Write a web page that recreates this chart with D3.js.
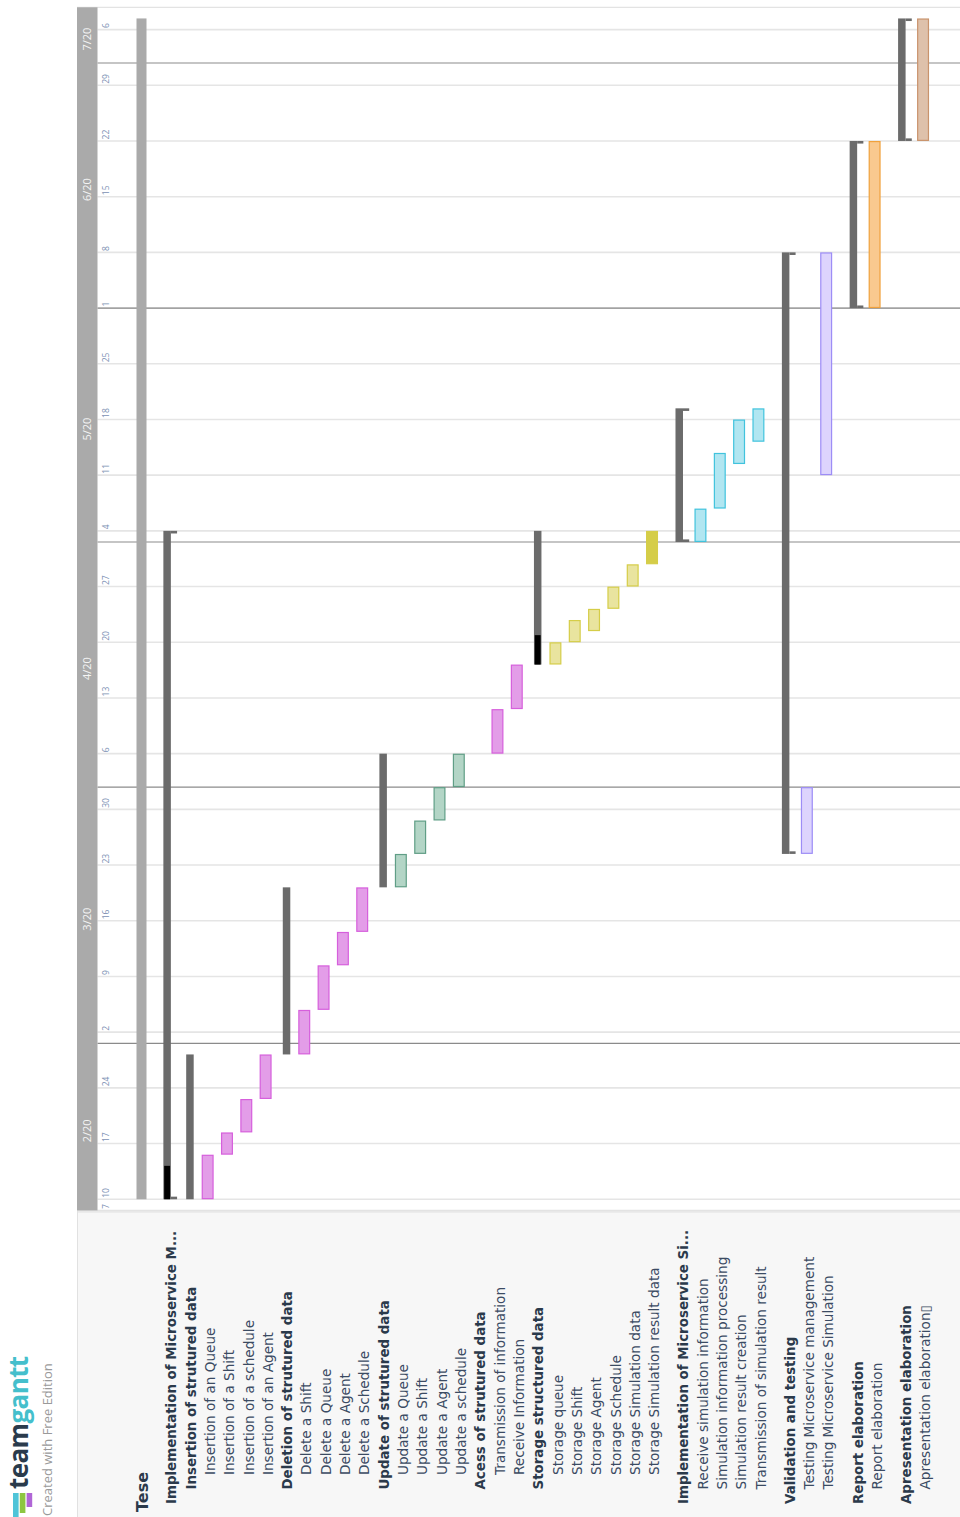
<!DOCTYPE html>
<html>
<head>
<meta charset="utf-8">
<script src="https://cdn.jsdelivr.net/npm/d3@7"></script>
<style>
  html, body { margin: 0; padding: 0; background: #ffffff; }
  svg { display: block; }
</style>
</head>
<body>
<svg id="chart" width="960" height="1517"></svg>
<script>
// ---- schedule data -------------------------------------------------------
const rowNames = [
  "Tese",
  "Implementation of Microservice M...",
  "Insertion of strutured data",
  "Insertion of an Queue",
  "Insertion of a Shift",
  "Insertion of a schedule",
  "Insertion of an Agent",
  "Deletion of strutured data",
  "Delete a Shift",
  "Delete a Queue",
  "Delete a Agent",
  "Delete a Schedule",
  "Update of strutured data",
  "Update a Queue",
  "Update a Shift",
  "Update a Agent",
  "Update a schedule",
  "Acess of strutured data",
  "Transmission of information",
  "Receive Information",
  "Storage structured data",
  "Storage queue",
  "Storage Shift",
  "Storage Agent",
  "Storage Schedule",
  "Storage Simulation data",
  "Storage Simulation result data",
  "Implementation of Microservice Si...",
  "Receive simulation information",
  "Simulation information processing",
  "Simulation result creation",
  "Transmission of simulation result",
  "Validation and testing",
  "Testing Microservice management",
  "Testing Microservice Simulation",
  "Report elaboration",
  "Report elaboration",
  "Apresentation elaboration",
  "Apresentation elaboration\u25AF"
];

const rowKinds = [
  "project",
  "group", "subgroup", "task", "task", "task", "task",
  "subgroup", "task", "task", "task", "task",
  "subgroup", "task", "task", "task", "task",
  "subgroup", "task", "task",
  "subgroup", "task", "task", "task", "task", "task", "task",
  "group", "task", "task", "task", "task",
  "group", "task", "task",
  "group", "task",
  "group", "task"
];

const rowDepths = [
  -1,
  0, 1, 2, 2, 2, 2,
  1, 2, 2, 2, 2,
  1, 2, 2, 2, 2,
  1, 2, 2,
  1, 2, 2, 2, 2, 2, 2,
  0, 1, 1, 1, 1,
  0, 1, 1,
  0, 1,
  0, 1
];

const rowStarts = [
  "2020-02-10",
  "2020-02-10", "2020-02-10", "2020-02-10", "2020-02-14", "2020-02-18", "2020-02-21",
  "2020-02-27", "2020-02-27", "2020-03-04", "2020-03-10", "2020-03-13",
  "2020-03-19", "2020-03-19", "2020-03-24", "2020-03-27", "2020-04-01",
  null, "2020-04-06", "2020-04-10",
  "2020-04-16", "2020-04-16", "2020-04-20", "2020-04-21", "2020-04-23", "2020-04-27", "2020-04-29",
  "2020-05-01", "2020-05-01", "2020-05-06", "2020-05-12", "2020-05-14",
  "2020-03-24", "2020-03-24", "2020-05-11",
  "2020-06-01", "2020-06-01",
  "2020-06-22", "2020-06-22"
];

const rowEnds = [
  "2020-07-06",
  "2020-05-01", "2020-02-26", "2020-02-13", "2020-02-17", "2020-02-20", "2020-02-26",
  "2020-03-18", "2020-03-03", "2020-03-09", "2020-03-12", "2020-03-18",
  "2020-04-03", "2020-03-23", "2020-03-26", "2020-03-31", "2020-04-03",
  null, "2020-04-09", "2020-04-15",
  "2020-05-01", "2020-04-17", "2020-04-21", "2020-04-22", "2020-04-24", "2020-04-28", "2020-05-01",
  "2020-05-18", "2020-05-05", "2020-05-12", "2020-05-15", "2020-05-18",
  "2020-06-05", "2020-03-31", "2020-06-05",
  "2020-06-19", "2020-06-19",
  "2020-07-06", "2020-07-06"
];

// percent complete
const rowProgress = [
  0,
  5, 0, 0, 0, 0, 0,
  0, 0, 0, 0, 0,
  0, 0, 0, 0, 0,
  0, 0, 0,
  22, 0, 0, 0, 0, 0, 100,
  0, 0, 0, 0, 0,
  0, 0, 0,
  0, 0,
  0, 0
];

// colour family of each task bar
const rowPalette = [
  null,
  null, null, "pink", "pink", "pink", "pink",
  null, "pink", "pink", "pink", "pink",
  null, "sage", "sage", "sage", "sage",
  null, "pink", "pink",
  null, "olive", "olive", "olive", "olive", "olive", "olive",
  null, "sky", "sky", "sky", "sky",
  null, "lilac", "lilac",
  null, "apricot",
  null, "sand"
];

// visible calendar: first and last working day shown
const timeSpan = ["2020-02-07", "2020-07-07"];

// ---- styles ----------------------------------------------------------------
const palette = {
  pink:    { fill: "#e39de8", stroke: "#d65fdc" },
  sage:    { fill: "#b3d5c6", stroke: "#609e86" },
  olive:   { fill: "#e9e49f", stroke: "#d5cd48" },
  sky:     { fill: "#b1e6f1", stroke: "#41c3dd" },
  lilac:   { fill: "#ddd4fd", stroke: "#9d8df6" },
  apricot: { fill: "#f9c98f", stroke: "#f0a13c" },
  sand:    { fill: "#dec1ab", stroke: "#c9936c" }
};
const labelFont = "'DejaVu Sans', 'Open Sans', sans-serif";
const uiFont = "'Open Sans', 'Noto Sans', sans-serif";

// ---- calendar helpers (weekends are hidden) ---------------------------
const parse = d3.utcParse("%Y-%m-%d");
const isWorkday = d => d.getUTCDay() !== 0 && d.getUTCDay() !== 6;
const calStart = parse(timeSpan[0]);
const calEnd = d3.utcDay.offset(parse(timeSpan[1]), 1);   // exclusive
const workIndex = d => d3.utcDay.range(calStart, d).filter(isWorkday).length;

const svg = d3.select("#chart");

const plotTop = 7.3, plotBottom = 1210.4;
const headerX0 = 77, headerX1 = 97.5, plotRight = 960;

// time runs bottom -> top
const y = d3.scaleLinear()
  .domain([0, workIndex(calEnd)])
  .range([plotBottom, plotTop]);
const yDate = d => y(workIndex(d));

// row centres, with a little extra room before every top-level group
const rowStep = 19.32, groupGap = 9.8, rowOrigin = 139.9;
let groupCount = 0;
const rowX = rowNames.map((_, i) => {
  if (rowKinds[i] === "group") groupCount++;
  return rowOrigin + rowStep * i + groupGap * groupCount;
});

// ---- backgrounds ---------------------------------------------------------
svg.append("rect").attr("x", 0).attr("y", 0).attr("width", 960).attr("height", 1517).attr("fill", "#ffffff");

// task list panel
svg.append("rect")
  .attr("x", headerX0).attr("y", plotBottom + 1.5)
  .attr("width", plotRight - headerX0).attr("height", 1517 - plotBottom)
  .attr("fill", "#f7f7f7");
svg.append("line")
  .attr("x1", headerX0).attr("x2", plotRight)
  .attr("y1", plotBottom + 1.5).attr("y2", plotBottom + 1.5)
  .attr("stroke", "#e1e1e1").attr("stroke-width", 1.2);
svg.append("line")
  .attr("x1", headerX0 + 0.5).attr("x2", headerX0 + 0.5)
  .attr("y1", plotBottom).attr("y2", 1517)
  .attr("stroke", "#e1e1e1").attr("stroke-width", 1);

// ---- week grid -------------------------------------------------------------
const mondays = d3.utcMonday.range(calStart, calEnd);
const fmtDay = d3.utcFormat("%-d");

svg.append("g").selectAll("line")
  .data(mondays)
  .join("line")
  .attr("x1", headerX1).attr("x2", plotRight)
  .attr("y1", d => yDate(d)).attr("y2", d => yDate(d))
  .attr("stroke", "#e5e5e5").attr("stroke-width", 1.6);

// plot frame top / bottom
[plotTop, plotBottom].forEach(v => {
  svg.append("line")
    .attr("x1", headerX0).attr("x2", plotRight)
    .attr("y1", v).attr("y2", v)
    .attr("stroke", "#e3e3e3").attr("stroke-width", 1.2);
});

// ---- month dividers (a weekend month start falls back to the prior workday)
const monthStarts = d3.utcMonth.range(d3.utcMonth.ceil(calStart), calEnd);
const dividerDates = monthStarts.map(m => {
  let d = m;
  while (!isWorkday(d)) d = d3.utcDay.offset(d, -1);
  return d;
});

svg.append("g").selectAll("line")
  .data(dividerDates)
  .join("line")
  .attr("x1", headerX1).attr("x2", plotRight)
  .attr("y1", d => yDate(d)).attr("y2", d => yDate(d))
  .attr("stroke", "#8b8b8b").attr("stroke-width", 1.2);

// ---- header band with months ----------------------------------------------
svg.append("rect")
  .attr("x", headerX0).attr("y", plotTop)
  .attr("width", headerX1 - headerX0).attr("height", plotBottom - plotTop)
  .attr("fill", "#aaaaaa");

const fmtMonth = d3.utcFormat("%-m/%y");
const monthBands = [calStart, ...dividerDates].map((d, i, arr) => ({
  label: fmtMonth(i === 0 ? calStart : monthStarts[i - 1]),
  y0: yDate(d),
  y1: i + 1 < arr.length ? yDate(arr[i + 1]) : y(workIndex(calEnd))
}));

svg.append("g").selectAll("text")
  .data(monthBands)
  .join("text")
  .attr("transform", d => `translate(${(headerX0 + headerX1) / 2 + 4},${(d.y0 + d.y1) / 2 + 4}) rotate(-90)`)
  .attr("text-anchor", "middle")
  .attr("font-family", uiFont)
  .attr("font-size", 11)
  .attr("fill", "#f4f4f4")
  .text(d => d.label);

// day numbers for each week (plus the first visible day)
const dayTicks = [calStart, ...mondays];
svg.append("g").selectAll("text")
  .data(dayTicks)
  .join("text")
  .attr("transform", d => `translate(${headerX1 + 11},${yDate(d) - 1.5}) rotate(-90)`)
  .attr("text-anchor", "start")
  .attr("font-family", uiFont)
  .attr("font-size", 8.5)
  .attr("fill", "#7b90b3")
  .text(d => fmtDay(d));

// ---- bars ------------------------------------------------------------------
const rows = rowNames.map((name, i) => ({
  name, i,
  kind: rowKinds[i],
  depth: rowDepths[i],
  start: rowStarts[i] ? parse(rowStarts[i]) : null,
  end: rowEnds[i] ? parse(rowEnds[i]) : null,
  progress: rowProgress[i],
  colour: rowPalette[i],
  x: rowX[i]
}));

const barLayer = svg.append("g");

rows.filter(r => r.start).forEach(r => {
  const yBottom = yDate(r.start);
  const yTop = y(workIndex(r.end) + 1);
  if (r.kind === "project") {
    barLayer.append("rect")
      .attr("x", r.x - 3.4).attr("y", yTop)
      .attr("width", 10).attr("height", yBottom - yTop)
      .attr("fill", "#aaaaaa");
  } else if (r.kind === "group" || r.kind === "subgroup") {
    const bx = r.kind === "group" ? r.x - 5.65 : r.x - 2.15;
    barLayer.append("rect")
      .attr("x", bx).attr("y", yTop)
      .attr("width", 7.5).attr("height", yBottom - yTop)
      .attr("fill", "#6b6b6b");
    if (r.progress > 0) {
      const h = (yBottom - yTop) * r.progress / 100;
      barLayer.append("rect")
        .attr("x", bx + 0.8).attr("y", yBottom - h)
        .attr("width", 5.9).attr("height", h)
        .attr("fill", "#000000");
    }
    if (r.kind === "group") {
      [yTop, yBottom - 2.6].forEach(cy => {
        barLayer.append("rect")
          .attr("x", bx + 7.5).attr("y", cy)
          .attr("width", 6.2).attr("height", 2.6)
          .attr("fill", "#6b6b6b");
      });
    }
  } else {
    const pal = palette[r.colour];
    const done = r.progress >= 100;
    barLayer.append("rect")
      .attr("x", r.x - 5.4).attr("y", yTop + 0.6)
      .attr("width", 10.8).attr("height", yBottom - yTop - 1.2)
      .attr("fill", done ? pal.stroke : pal.fill)
      .attr("stroke", pal.stroke)
      .attr("stroke-width", 1.2);
  }
});

// ---- task list labels ------------------------------------------------------
const labelStart = { "-1": 1512, "0": 1504, "1": 1489.5, "2": 1475 };

svg.append("g").selectAll("text")
  .data(rows)
  .join("text")
  .attr("transform", d => `translate(${d.x + (d.kind === "project" ? 7.6 : 7.2)},${labelStart[d.depth]}) rotate(-90)`)
  .attr("text-anchor", "start")
  .attr("font-family", labelFont)
  .attr("font-size", d => d.kind === "project" ? 16 : (d.kind === "task" ? 13.6 : 13.4))
  .attr("font-weight", d => d.kind === "task" ? 400 : 700)
  .attr("fill", d => d.kind === "task" ? "#3b4b63" : "#2b3a4b")
  .text(d => d.name);

// ---- brand mark --------------------------------------------------------------
const brand = svg.append("g");
[
  { x: 13, len: 26, c: "#4fc4d8" },
  { x: 19.8, len: 20, c: "#8dc641" },
  { x: 26.6, len: 14, c: "#b066d6" }
].forEach(s => {
  brand.append("rect")
    .attr("x", s.x).attr("y", 1493)
    .attr("width", 5.6).attr("height", s.len)
    .attr("fill", s.c);
});

const word = brand.append("text")
  .attr("transform", "translate(27.5,1489) rotate(-90)")
  .attr("font-family", uiFont)
  .attr("font-size", 26)
  .attr("font-weight", 700)
  .attr("letter-spacing", -0.6);
word.append("tspan").attr("fill", "#2a3b4c").text("team");
word.append("tspan").attr("fill", "#45bfcc").text("gantt");

brand.append("text")
  .attr("transform", "translate(52,1516) rotate(-90)")
  .attr("font-family", uiFont)
  .attr("font-size", 13)
  .attr("fill", "#9a9a9a")
  .text("Created with Free Edition");
</script>
</body>
</html>
